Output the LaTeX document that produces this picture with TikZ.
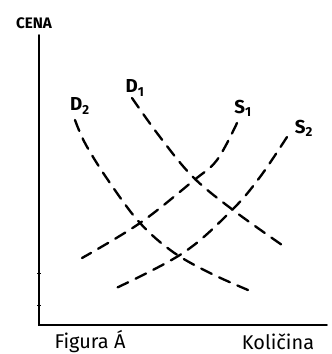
\documentclass[tikz,border=0pt]{standalone}
\usepackage{fontspec}
\setmainfont{Fira Sans}
\usepackage{tikz}
\usetikzlibrary{positioning, calc}
\tikzset{
  ec axis/.style={draw=black, line width=1.6pt, line cap=round},
  ec curve/.style={draw=black, line width=2pt, line cap=round,
    dash pattern=on 10pt off 7pt},
  ec label/.style={font=\fontsize{16}{16}\selectfont\bfseries, inner sep=1pt},
  ec text/.style={font=\fontsize{17}{17}\selectfont, inner sep=1pt},
}

\begin{document}
\begin{tikzpicture}[x=0.03cm, y=-0.03cm]
 \useasboundingbox (0,0) rectangle (332,354);
 % axes
 \coordinate (top) at (39,35);
 \coordinate (orig) at (39,325);
 \coordinate (right) at (327,325);
 \draw[ec axis] (top) -- (orig) -- (right);
 \draw[line width=0.8pt] (37,273) -- (41,273);
 \draw[line width=0.8pt] (37,305) -- (41,305);
 \node[font=\fontsize{13}{13}\selectfont\bfseries, inner sep=1pt] (cena) at (34,23) {CENA};
 \node[ec text] (fig) at (90,342) {Figura Á};
 \node[ec text] (kol) at (278,342) {Količina};
 % demand
 \draw[ec curve] plot[smooth, tension=0.6] coordinates
   {(75,120) (86,145) (110,183) (140,223) (173,252) (210,273) (248,290)};
 \draw[ec curve] plot[smooth, tension=0.6] coordinates
   {(132,98) (160,137) (193,177) (233,210) (282,245)};
 % supply
 \draw[ec curve] plot[smooth, tension=0.6] coordinates
   {(237,123) (217,160) (193,181) (140,223) (82,258)};
 \draw[ec curve] plot[smooth, tension=0.6] coordinates
   {(287,137) (260,177) (232,210) (183,253) (112,290)};
 \node[ec label] (d2) at (80,106) {D$_{\mathbf 2}$};
 \node[ec label] (d1) at (135,88) {D$_{\mathbf 1}$};
 \node[ec label] (s1) at (243,108) {S$_{\mathbf 1}$};
 \node[ec label] (s2) at (304,128) {S$_{\mathbf 2}$};
\end{tikzpicture}
\end{document}
